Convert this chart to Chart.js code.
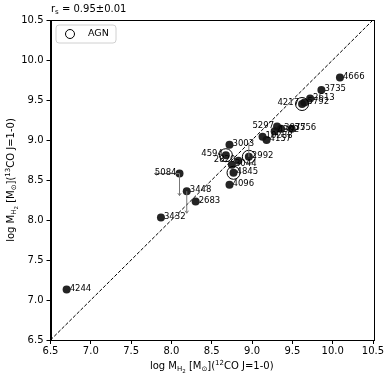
<!DOCTYPE html>
<html>
<head>
<meta charset="utf-8">
<script src="https://cdn.jsdelivr.net/npm/chart.js@4"></script>
<style>
html,body{margin:0;padding:0;background:#fff;}
#wrap{width:391px;height:377px;position:relative;}
</style>
</head>
<body>
<div id="wrap"><canvas id="c" width="391" height="377"></canvas></div>
<script>
// ---- data ----
const galaxies = ['4666','3735','2613','4217','5792','5297','3877','4302','3556','10288','4157','3003','4594','2820','2992','3044','4845','4096','5084','3448','2683','3432','4244'];
const logM12CO = [10.09, 9.86, 9.72, 9.62, 9.65, 9.31, 9.36, 9.28, 9.49, 9.13, 9.18, 8.72, 8.675, 8.83, 8.96, 8.75, 8.77, 8.72, 8.10, 8.19, 8.30, 7.87, 6.70];
const logM13CO = [9.78, 9.625, 9.52, 9.45, 9.47, 9.17, 9.14, 9.11, 9.14, 9.04, 9.00, 8.94, 8.81, 8.74, 8.79, 8.69, 8.59, 8.44, 8.58, 8.36, 8.23, 8.03, 7.13];
const agnGalaxies = ['4217','4594','2992','4845'];
const upperLimitY = ['5084','3448'];
const upperLimitX = ['5084'];
const lowerLimitY = ['2992'];
const leftLabelled = ['4217','5297','4594','2820','5084'];
const tickValues = [6.5, 7.0, 7.5, 8.0, 8.5, 9.0, 9.5, 10.0, 10.5];
const oneToOne = [6.5, 10.5];
const correlationText = 'r';
const correlationValue = ' = 0.95\u00b10.01';

const FONT = '"DejaVu Sans", sans-serif';

const points = galaxies.map((g, i) => ({x: logM12CO[i], y: logM13CO[i], name: g}));
const agnPoints = points.filter(p => agnGalaxies.includes(p.name));

function drawRich(ctx, parts, x, y, align) {
  // parts: [text, sizePx, dy]
  let total = 0;
  parts.forEach(p => { ctx.font = p[1] + 'px ' + FONT; total += ctx.measureText(p[0]).width; });
  let cx = align === 'center' ? x - total / 2 : x;
  parts.forEach(p => {
    ctx.font = p[1] + 'px ' + FONT;
    ctx.fillText(p[0], cx, y + p[2]);
    cx += ctx.measureText(p[0]).width;
  });
}

function axisLabel(iso) {
  return [['log M', 10, 0], ['H', 7, 2], ['2', 5.5, 3.5], [' [M', 10, 0], ['\u2299', 7, 2], [']', 10, 0], ['(', 10, 0], [iso, 7, -4], ['CO J=1-0)', 10, 0]];
}

const extras = {
  id: 'extras',
  afterDatasetsDraw(chart) {
    const ctx = chart.ctx;
    const xs = chart.scales.x, ys = chart.scales.y;
    const ca = chart.chartArea;
    ctx.save();
    // limit arrows
    ctx.strokeStyle = '#777'; ctx.lineWidth = 1;
    const arrow = (x1, y1, x2, y2) => {
      ctx.beginPath(); ctx.moveTo(x1, y1); ctx.lineTo(x2, y2); ctx.stroke();
      const ang = Math.atan2(y2 - y1, x2 - x1), h = 3;
      ctx.beginPath();
      ctx.moveTo(x2 - h * Math.cos(ang - 0.6), y2 - h * Math.sin(ang - 0.6));
      ctx.lineTo(x2, y2);
      ctx.lineTo(x2 - h * Math.cos(ang + 0.6), y2 - h * Math.sin(ang + 0.6));
      ctx.stroke();
    };
    points.forEach(p => {
      const px = xs.getPixelForValue(p.x), py = ys.getPixelForValue(p.y);
      if (upperLimitY.includes(p.name)) arrow(px, py, px, py + 22);
      if (upperLimitX.includes(p.name)) arrow(px, py, px - 25, py);
      if (lowerLimitY.includes(p.name)) { ctx.beginPath(); ctx.moveTo(px, py); ctx.lineTo(px, py - 14); ctx.stroke(); }
    });
    // labels
    ctx.fillStyle = '#000';
    ctx.font = '8.5px ' + FONT;
    ctx.textBaseline = 'middle';
    points.forEach(p => {
      const px = xs.getPixelForValue(p.x), py = ys.getPixelForValue(p.y);
      if (leftLabelled.includes(p.name)) { ctx.textAlign = 'right'; ctx.fillText(p.name, px - 3, py - 1); }
      else { ctx.textAlign = 'left'; ctx.fillText(p.name, px + 3, py - 1); }
    });
    // spines
    ctx.strokeStyle = '#000'; ctx.lineWidth = 1;
    ctx.strokeRect(Math.round(ca.left) + 0.5, Math.round(ca.top) + 0.5, Math.round(ca.right - ca.left), Math.round(ca.bottom - ca.top));
    // legend
    const lx = 56, ly = 25, lw = 60, lh = 18, r = 3;
    ctx.beginPath();
    ctx.moveTo(lx + r, ly); ctx.lineTo(lx + lw - r, ly); ctx.quadraticCurveTo(lx + lw, ly, lx + lw, ly + r);
    ctx.lineTo(lx + lw, ly + lh - r); ctx.quadraticCurveTo(lx + lw, ly + lh, lx + lw - r, ly + lh);
    ctx.lineTo(lx + r, ly + lh); ctx.quadraticCurveTo(lx, ly + lh, lx, ly + lh - r);
    ctx.lineTo(lx, ly + r); ctx.quadraticCurveTo(lx, ly, lx + r, ly);
    ctx.fillStyle = 'rgba(255,255,255,0.8)'; ctx.fill();
    ctx.strokeStyle = '#d0d0d0'; ctx.stroke();
    ctx.beginPath(); ctx.arc(70, 34, 4.5, 0, Math.PI * 2); ctx.strokeStyle = '#000'; ctx.stroke();
    ctx.fillStyle = '#000'; ctx.textAlign = 'left'; ctx.textBaseline = 'middle';
    ctx.font = '9.5px ' + FONT; ctx.fillText('AGN', 88, 34);
    // title
    ctx.textBaseline = 'alphabetic';
    drawRich(ctx, [[correlationText, 10, 0], ['s', 7, 2], [correlationValue, 10, 0]], 51, 12, 'left');
    // x label
    drawRich(ctx, axisLabel('12'), (ca.left + ca.right) / 2, 369, 'center');
    // y label
    ctx.translate(14, (ca.top + ca.bottom) / 2);
    ctx.rotate(-Math.PI / 2);
    drawRich(ctx, axisLabel('13'), 0, 0, 'center');
    ctx.restore();
  }
};

new Chart(document.getElementById('c'), {
  data: {
    datasets: [
      {
        type: 'line',
        data: oneToOne.map(v => ({x: v, y: v})),
        borderColor: '#000', borderWidth: 1, borderDash: [3.5, 1.8],
        pointRadius: 0, fill: false, order: 3
      },
      {
        type: 'scatter',
        data: points,
        backgroundColor: 'rgba(17,17,17,0.92)', borderWidth: 0,
        pointRadius: 4, order: 2
      },
      {
        type: 'scatter',
        label: 'AGN',
        data: agnPoints,
        backgroundColor: 'rgba(0,0,0,0)', borderColor: '#000', borderWidth: 1,
        pointRadius: 6.5, order: 1
      }
    ]
  },
  options: {
    responsive: false,
    animation: false,
    devicePixelRatio: 1,
    layout: {padding: {top: 20, right: 18, left: 0, bottom: 0}},
    plugins: {legend: {display: false}, tooltip: {enabled: false}},
    scales: {
      x: {
        type: 'linear', min: 6.5, max: 10.5,
        afterBuildTicks: s => { s.ticks = tickValues.map(v => ({value: v})); },
        afterFit: s => { s.height = 37; },
        ticks: {callback: v => v.toFixed(1), color: '#000', font: {family: FONT, size: 10}, padding: 1, maxRotation: 0, autoSkip: false},
        grid: {drawOnChartArea: false, drawTicks: true, tickLength: 4, color: '#000'},
        border: {display: true, color: '#000'}
      },
      y: {
        type: 'linear', min: 6.5, max: 10.5,
        afterBuildTicks: s => { s.ticks = tickValues.map(v => ({value: v})); },
        afterFit: s => { s.width = 50.5; },
        ticks: {callback: v => v.toFixed(1), color: '#000', font: {family: FONT, size: 10}, padding: 3, autoSkip: false},
        grid: {drawOnChartArea: false, drawTicks: true, tickLength: 4, color: '#000'},
        border: {display: true, color: '#000'}
      }
    }
  },
  plugins: [extras]
});
</script>
</body>
</html>
